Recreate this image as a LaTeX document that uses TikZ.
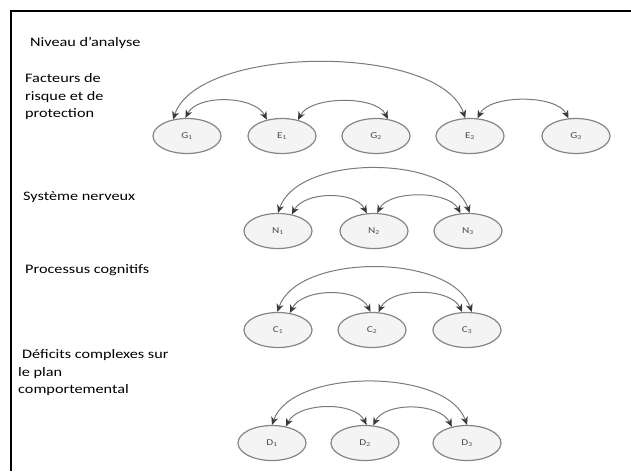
\documentclass[tikz,border=0pt]{standalone}
\usepackage{fontspec}
\setmainfont[FakeStretch=1.25]{Carlito}
\usetikzlibrary{shapes.geometric,arrows.meta}
\definecolor{ringgray}{HTML}{858585}
\definecolor{ringfill}{HTML}{F4F4F4}
\definecolor{linkgray}{HTML}{7A7A7A}
\definecolor{tipgray}{HTML}{3A3A3A}
\tikzset{
  factor/.style={ellipse,draw=ringgray,fill=ringfill,line width=1.2pt,minimum width=68pt,minimum height=35pt,inner sep=0pt,font=\fontsize{9}{9}\selectfont,text=black!70},
  link/.style={draw=linkgray,line width=1pt,{Stealth[length=8pt,width=7pt,inset=2.5pt,color=tipgray]}-{Stealth[length=8pt,width=7pt,inset=2.5pt,color=tipgray]}},
  level/.style={anchor=west,align=left,inner sep=0pt,font=\fontsize{13}{17.5}\selectfont}
}
\begin{document}
\begin{tikzpicture}[x=1pt,y=-1pt]
  \useasboundingbox (0,0) rectangle (631,471);
  \draw[line width=1.3pt] (11,471) -- (11,11) -- (631,11);

  % levels
  \node[level] (niveau) at (30,43) {Niveau d'analyse};
  \node[level] (facteurs) at (25,97) {Facteurs de\\risque et de\\protection};
  \node[level] (systeme) at (23,197) {Système nerveux};
  \node[level] (processus) at (25,270) {Processus cognitifs};
  \node[level] (deficits) at (18,373) {\hspace{4pt}Déficits complexes sur\\le plan\\comportemental};

  % factors
  \node[factor] (g1) at (187,136) {G\textsubscript{1}};
  \node[factor] (e1) at (282,136) {E\textsubscript{1}};
  \node[factor] (g2) at (376,136) {G\textsubscript{2}};
  \node[factor] (e2) at (470,136) {E\textsubscript{2}};
  \node[factor] (g3) at (576,136) {G\textsubscript{3}};
  \draw[link] (g1.130) .. controls +(25,-75) and +(-25,-75) .. (e2.105);
  \draw[link] (g1.95) .. controls +(12,-24) and +(-12,-24) .. (e1.133);
  \draw[link] (e1.45) .. controls +(12,-24) and +(-12,-24) .. (g2.55);
  \draw[link] (e2.67) .. controls +(12,-24) and +(-12,-24) .. (g3.113);

  % nervous system
  \node[factor] (n1) at (278,231) {N\textsubscript{1}};
  \node[factor] (n2) at (374,231) {N\textsubscript{2}};
  \node[factor] (n3) at (468,231) {N\textsubscript{3}};
  \draw[link] (n1.90) .. controls +(20,-59) and +(-20,-59) .. (n3.85);
  \draw[link] (n1.50) .. controls +(12,-23) and +(-12,-23) .. (n2.112);
  \draw[link] (n2.80) .. controls +(12,-23) and +(-12,-23) .. (n3.113);

  % cognition
  \node[factor] (c1) at (278,330) {C\textsubscript{1}};
  \node[factor] (c2) at (372,330) {C\textsubscript{2}};
  \node[factor] (c3) at (467,330) {C\textsubscript{3}};
  \draw[link] (c1.92) .. controls +(20,-59) and +(-20,-59) .. (c3.75);
  \draw[link] (c1.55) .. controls +(12,-25) and +(-12,-25) .. (c2.95);
  \draw[link] (c2.70) .. controls +(12,-25) and +(-12,-25) .. (c3.105);

  % behaviour
  \node[factor] (d1) at (272,443) {D\textsubscript{1}};
  \node[factor] (d2) at (365,443) {D\textsubscript{2}};
  \node[factor] (d3) at (467,443) {D\textsubscript{3}};
  \draw[link] (d1.90) .. controls +(20,-57) and +(-20,-57) .. (d3.90);
  \draw[link] (d1.50) .. controls +(12,-24) and +(-12,-24) .. (d2.85);
  \draw[link] (d2.65) .. controls +(12,-24) and +(-12,-24) .. (d3.133);
\end{tikzpicture}
\end{document}
